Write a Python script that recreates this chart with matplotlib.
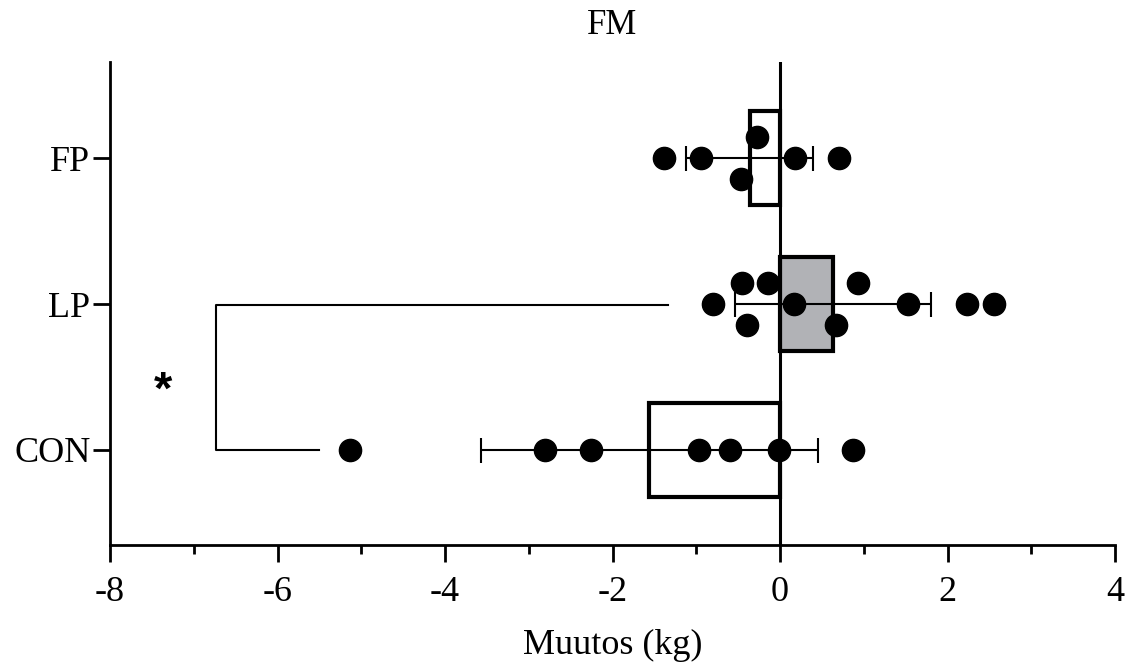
import numpy as np
import matplotlib
matplotlib.use("Agg")
import matplotlib.pyplot as plt
from matplotlib.ticker import MultipleLocator

plt.rcParams['font.family'] = ['Liberation Serif', 'DejaVu Serif']

# ---- data ----
groups = ["CON", "LP", "FP"]
con_vals = [-5.13, -2.81, -2.26, -0.97, -0.60, -0.01, 0.87]
lp_vals = [-0.45, -0.14, 0.93, -0.80, 0.17, 1.53, 2.23, 2.56, -0.39, 0.67]
fp_vals = [-1.39, -0.94, -0.27, 0.18, 0.71, -0.46]
# vertical swarm offsets (layout only)
con_off = [0, 0, 0, 0, 0, 0, 0]
lp_off = [0.146, 0.146, 0.146, 0, 0, 0, 0, 0, -0.146, -0.146]
fp_off = [0, 0, 0.146, 0, 0, -0.146]
bar_colors = ["white", "#b1b2b6", "white"]
xticks = [-8, -6, -4, -2, 0, 2, 4]
title = "FM"
xlabel = "Muutos (kg)"
sig_label = "*"
bracket_x = [-1.34, -6.74, -6.74, -5.50]

all_vals = [con_vals, lp_vals, fp_vals]
all_off = [con_off, lp_off, fp_off]
means = [np.mean(v) for v in all_vals]
sds = [np.std(v, ddof=1) for v in all_vals]
ypos = np.arange(len(groups))

fig = plt.figure(figsize=(11.3, 6.64), dpi=100)
ax = fig.add_axes([110/1130, 1-545/664, (1115-110)/1130, (545-62)/664])

ax.barh(ypos, means, height=0.64, color=bar_colors, edgecolor="black",
        linewidth=3, zorder=2)
ax.errorbar(means, ypos, xerr=sds, fmt="none", ecolor="black",
            elinewidth=1.5, capsize=9, capthick=1.5, zorder=3)
ax.axvline(0, color="black", linewidth=2.2, zorder=4)
for y, vals, off in zip(ypos, all_vals, all_off):
    ax.plot(vals, y + np.array(off), "o", color="black", markersize=16,
            linestyle="none", zorder=5)

# significance bracket between LP and CON
ax.plot(bracket_x, [0.99, 0.99, 0, 0], color="black", linewidth=1.5, zorder=3)
ax.text(-7.37, 0.40, sig_label, fontsize=34, fontweight="bold",
        family=["Liberation Sans", "DejaVu Sans"], ha="center", va="center")

ax.set_xlim(-8, 4)
ax.set_ylim(-0.651, 2.658)
ax.set_xticks(xticks)
ax.set_xticklabels([str(t) for t in xticks])
ax.xaxis.set_minor_locator(MultipleLocator(1))
ax.set_yticks(ypos)
ax.set_yticklabels(groups)

for s in ["top", "right"]:
    ax.spines[s].set_visible(False)
for s in ["left", "bottom"]:
    ax.spines[s].set_linewidth(2)

ax.tick_params(axis="both", which="major", length=12, width=2,
               labelsize=26, direction="out")
ax.tick_params(axis="x", which="major", pad=10.5)
ax.tick_params(axis="y", which="major", pad=2)
ax.tick_params(axis="x", which="minor", length=6.5, width=2)

ax.set_title(title, fontsize=25, pad=20)
ax.set_xlabel(xlabel, fontsize=26, labelpad=14.5)

fig.savefig("out.png", dpi=100)
